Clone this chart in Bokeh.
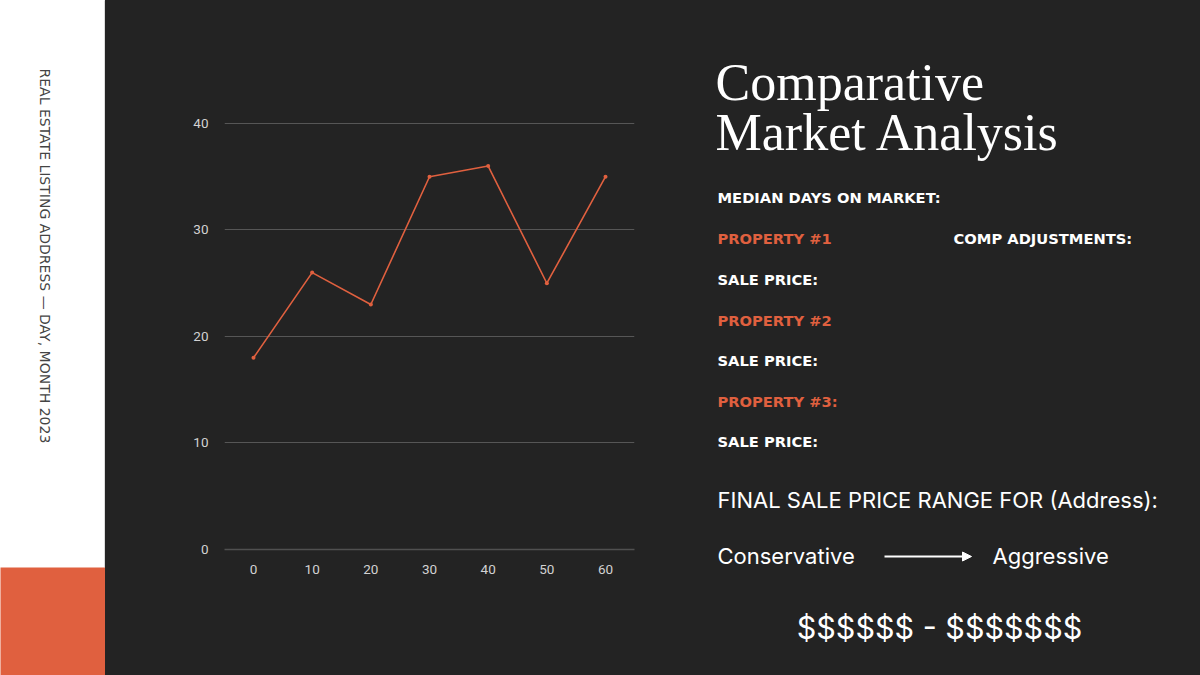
from bokeh.plotting import figure
from bokeh.layouts import row
from bokeh.models import Range1d, FixedTicker, Arrow, NormalHead
from bokeh.core.properties import value
from bokeh.embed import file_html
from bokeh.resources import INLINE
import math

# ---- data ----
days = [0, 10, 20, 30, 40, 50, 60]
values = [18, 26, 23, 35, 36, 25, 35]
x_ticks = [0, 10, 20, 30, 40, 50, 60]
y_ticks = [0, 10, 20, 30, 40]

side_text = "REAL ESTATE LISTING ADDRESS \u2014 DAY, MONTH  2023"
title_lines = ["Comparative", "Market Analysis"]
label_rows = ["MEDIAN DAYS ON MARKET:", "PROPERTY #1", "SALE PRICE:", "PROPERTY #2",
              "SALE PRICE:", "PROPERTY #3:", "SALE PRICE:"]
label_kinds = ["white", "orange", "white", "orange", "white", "orange", "white"]
comp_label = "COMP ADJUSTMENTS:"
range_title = "FINAL SALE PRICE RANGE FOR (Address):"
left_word = "Conservative"
right_word = "Aggressive"
price_range = "$$$$$$ - $$$$$$$"

BG = "#232323"
ORANGE = "#e0603f"
H = 675


def blank(fig):
    fig.axis.visible = False
    fig.grid.visible = False
    fig.outline_line_color = None
    fig.background_fill_color = None
    fig.border_fill_color = None
    fig.frame_align = False


# ---- left strip (page x 0..105) ----
left = figure(width=105, height=H, x_range=Range1d(0, 105), y_range=Range1d(H, 0),
              output_backend="svg", toolbar_location=None, min_border=0)
blank(left)
left.styles = {"background-color": "white"}
left.quad(left=[-3], right=[104], top=[-3], bottom=[567], fill_color="white", line_color=None)
left.quad(left=[104], right=[106], top=[-3], bottom=[567], fill_color="#b8b8b8", line_color=None)
left.quad(left=[-3], right=[104.5], top=[567], bottom=[H + 3], fill_color=ORANGE, line_color=None)
left.text(x=[44], y=[68], text=[side_text], angle=-math.pi / 2,
          text_font=value("DejaVu Sans"), text_font_size="14px", text_color="#444444",
          text_align="left", text_baseline="middle")

# ---- chart (page x 105..680) ----
chart = figure(width=575, height=H, x_range=Range1d(-4.94, 64.94), y_range=Range1d(0, 40.28),
               output_backend="svg", toolbar_location=None,
               min_border_left=119, min_border_right=46, min_border_top=120, min_border_bottom=126)
chart.background_fill_color = None
chart.border_fill_color = None
chart.outline_line_color = None
chart.frame_align = False
chart.styles = {"background-color": BG}
chart.xgrid.visible = False
chart.ygrid.grid_line_color = "#565656"
chart.ygrid.grid_line_width = 1
chart.xaxis.ticker = FixedTicker(ticks=x_ticks)
chart.yaxis.ticker = FixedTicker(ticks=y_ticks)
for ax in (chart.xaxis, chart.yaxis):
    ax.major_tick_line_color = None
    ax.minor_tick_line_color = None
    ax.major_label_text_color = "#d2d2d2"
    ax.major_label_text_font = "Roboto"
    ax.major_label_text_font_size = "13.5px"
chart.xaxis.axis_line_color = "#505050"
chart.xaxis.axis_line_width = 1.5
chart.yaxis.axis_line_color = None
chart.xaxis.major_label_standoff = 9
chart.yaxis.major_label_standoff = 10
chart.line(days, values, line_color=ORANGE, line_width=1.6)
chart.scatter(days, values, size=4, fill_color=ORANGE, line_color=None)

# ---- right text panel (page x 680..1200) ----
right = figure(width=520, height=H, x_range=Range1d(680, 1200), y_range=Range1d(H, 0),
               output_backend="svg", toolbar_location=None, min_border=0)
blank(right)
right.styles = {"background-color": BG}

right.text(x=[715, 715], y=[82, 132], text=title_lines,
           text_font=value("Liberation Serif"), text_font_size="52px", text_color="white",
           text_align="left", text_baseline="alphabetic")

row_y = [197, 238, 279, 320, 360, 401, 441]
cols = [ORANGE if k == "orange" else "white" for k in label_kinds]
right.text(x=[717] * len(label_rows), y=row_y, text=label_rows, text_color=cols,
           text_font=value("DejaVu Sans"), text_font_style="bold", text_font_size="14.7px",
           text_align="left", text_baseline="middle")
right.text(x=[953], y=[238], text=[comp_label], text_color="white",
           text_font=value("DejaVu Sans"), text_font_style="bold", text_font_size="14.7px",
           text_align="left", text_baseline="middle")

right.text(x=[717], y=[499], text=[range_title], text_color="white",
           text_font=value("Inter"), text_font_size="22px",
           text_align="left", text_baseline="middle")
right.text(x=[717, 992], y=[555, 555], text=[left_word, right_word], text_color="white",
           text_font=value("Inter"), text_font_size="22px",
           text_align="left", text_baseline="middle")
right.add_layout(Arrow(x_start=884, y_start=556, x_end=971, y_end=556,
                       line_color="white", line_width=2,
                       end=NormalHead(size=9, fill_color="white", line_color="white")))
right.text(x=[939], y=[627], text=[price_range], text_color="white",
           text_font=value("Inter"), text_font_size="30.5px",
           text_align="center", text_baseline="middle")

layout = row(left, chart, right, spacing=0, styles={"background-color": "white"})
open("out.html", "w").write(file_html(layout, INLINE))
